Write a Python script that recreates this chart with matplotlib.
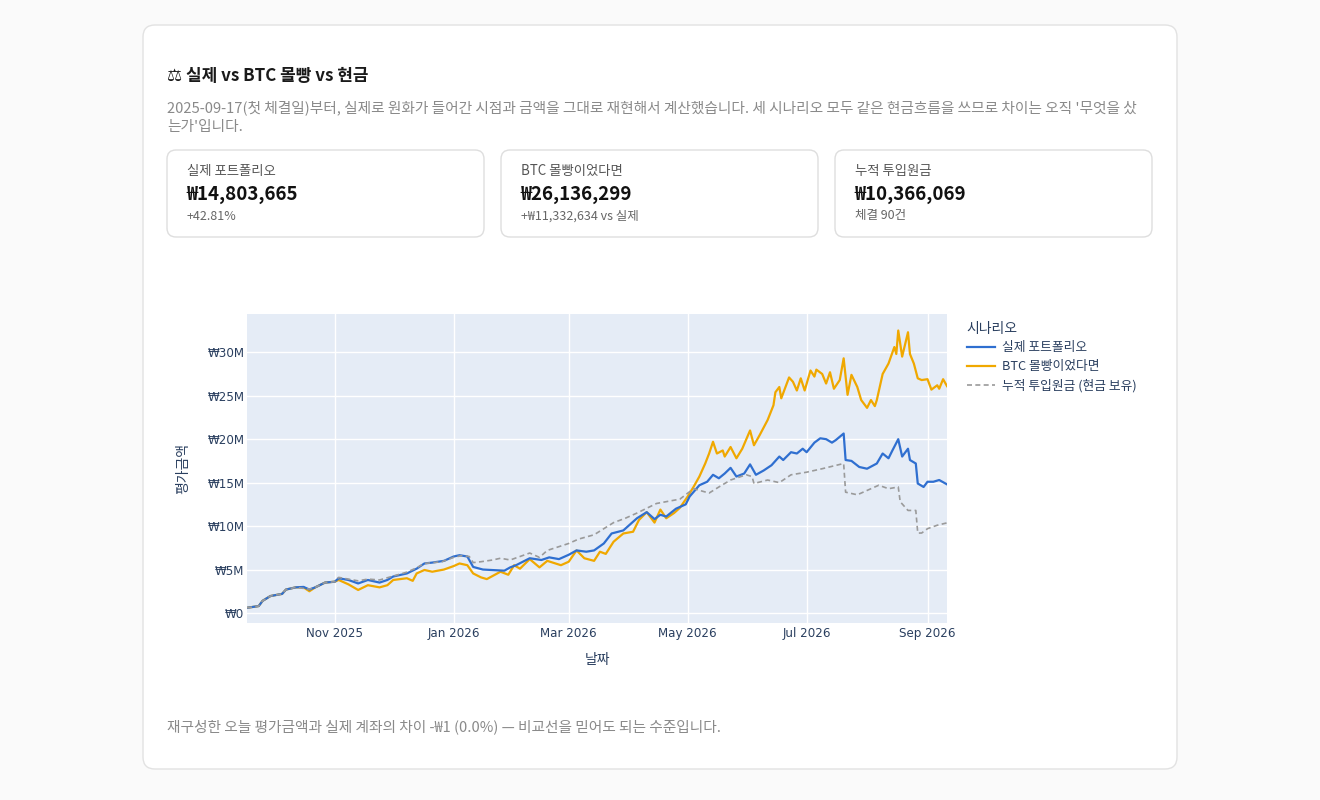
import numpy as np
import matplotlib.pyplot as plt
import matplotlib.dates as mdates
from matplotlib.patches import FancyBboxPatch
from matplotlib.lines import Line2D

plt.rcParams['font.family'] = ['Noto Sans CJK KR', 'DejaVu Sans']

# days since first fill (2025-09-17), values in millions of KRW
start = np.datetime64('2025-09-17')

actual_days = [0, 6, 8, 12, 18, 20, 25, 29, 32, 35, 40, 45, 47, 52, 57, 62, 68, 72, 75, 82,
               87, 91, 95, 101, 106, 109, 113, 116, 121, 126, 132, 135, 138, 145, 151, 155,
               160, 165, 169, 174, 178, 183, 187, 193, 200, 205, 209, 212, 215, 220, 225, 227,
               232, 236, 239, 242, 245, 248, 251, 255, 258, 261, 265, 269, 273, 275, 279, 282,
               285, 287, 291, 294, 297, 300, 302, 306, 307, 310, 314, 318, 323, 326, 329, 331,
               334, 336, 339, 340, 343, 344, 347, 349, 352, 355, 359]
actual_vals = [0.6, 0.8, 1.4, 1.95, 2.2, 2.7, 2.95, 3.0, 2.7, 2.95, 3.5, 3.6, 4.0, 3.8, 3.4,
               3.8, 3.5, 3.8, 4.2, 4.55, 5.1, 5.7, 5.8, 6.0, 6.5, 6.65, 6.5, 5.3, 5.0, 4.94,
               4.87, 5.25, 5.5, 6.3, 6.1, 6.4, 6.2, 6.7, 7.2, 7.05, 7.2, 8.0, 9.15, 9.5, 10.9,
               11.6, 10.8, 11.3, 11.1, 12.0, 12.5, 13.4, 14.7, 15.1, 15.9, 15.5, 16.05, 16.7,
               15.7, 16.05, 17.1, 15.9, 16.4, 17.0, 18.0, 17.6, 18.5, 18.35, 18.9, 18.5, 19.6,
               20.1, 20.0, 19.6, 19.9, 20.65, 17.6, 17.5, 16.8, 16.6, 17.2, 18.35, 17.8, 18.7,
               20.0, 18.0, 18.9, 17.6, 17.2, 14.9, 14.5, 15.1, 15.1, 15.3, 14.8]

btc_days = [0, 6, 8, 12, 18, 20, 25, 29, 32, 35, 40, 45, 47, 52, 57, 62, 68, 72, 75, 82, 85,
            87, 91, 95, 101, 106, 109, 113, 116, 120, 123, 130, 134, 137, 140, 145, 150, 154,
            161, 165, 169, 173, 178, 181, 184, 188, 193, 198, 201, 205, 209, 212, 215, 219,
            222, 226, 229, 232, 235, 237, 239, 241, 244, 245, 248, 251, 254, 258, 260, 263,
            267, 270, 271, 273, 274, 278, 280, 282, 284, 286, 289, 291, 292, 295, 297, 299,
            301, 304, 306, 308, 310, 313, 315, 318, 320, 322, 323, 326, 329, 332, 333, 334,
            336, 339, 340, 342, 344, 346, 349, 351, 354, 355, 357, 359]
btc_vals = [0.6, 0.8, 1.4, 1.95, 2.2, 2.7, 2.95, 2.95, 2.5, 2.95, 3.5, 3.6, 3.8, 3.3, 2.65,
            3.2, 2.95, 3.2, 3.8, 4.0, 3.7, 4.55, 4.95, 4.75, 5.0, 5.4, 5.7, 5.5, 4.55, 4.1,
            3.9, 4.75, 4.4, 5.5, 5.1, 6.2, 5.25, 6.0, 5.5, 5.9, 7.2, 6.3, 6.0, 7.05, 6.8, 8.2,
            9.15, 9.35, 10.7, 11.6, 10.4, 11.9, 10.9, 11.5, 12.1, 13.4, 14.5, 15.7, 17.2,
            18.35, 19.7, 18.35, 18.7, 18.0, 19.1, 17.8, 18.9, 21.0, 19.3, 20.5, 22.2, 23.9,
            25.4, 26.0, 24.7, 27.1, 26.6, 25.6, 27.0, 25.6, 27.9, 27.2, 28.0, 27.5, 26.4,
            27.7, 25.8, 26.8, 29.3, 25.1, 27.4, 26.0, 24.5, 23.6, 24.5, 23.8, 24.5, 27.5,
            28.7, 30.6, 29.8, 32.5, 29.5, 32.3, 29.8, 28.7, 27.0, 26.8, 26.9, 25.7, 26.2,
            25.8, 26.9, 26.1]

cash_days = [0, 6, 8, 12, 18, 20, 25, 32, 35, 40, 45, 47, 57, 62, 68, 75, 82, 87, 91, 100,
             106, 110, 114, 116, 120, 126, 130, 135, 145, 150, 154, 165, 170, 178, 188, 194,
             200, 210, 222, 229, 237, 242, 248, 256, 259, 260, 267, 273, 279, 287, 295, 306,
             307, 313, 318, 324, 329, 334, 335, 339, 343, 344, 346, 349, 354, 359]
cash_vals = [0.6, 0.8, 1.4, 1.95, 2.2, 2.7, 2.95, 2.75, 2.95, 3.5, 3.6, 4.1, 3.7, 3.9, 3.8,
             4.25, 4.7, 5.2, 5.7, 5.9, 6.4, 6.6, 6.5, 5.8, 5.9, 6.1, 6.3, 6.1, 6.9, 6.4, 7.2,
             8.0, 8.5, 9.0, 10.4, 10.9, 11.5, 12.6, 13.1, 14.3, 13.8, 14.5, 15.3, 15.9, 15.7,
             14.9, 15.3, 15.0, 15.9, 16.2, 16.6, 17.2, 13.9, 13.6, 14.1, 14.7, 14.3, 14.5,
             12.8, 11.8, 11.8, 9.2, 9.2, 9.7, 10.1, 10.37]

series_names = ['실제 포트폴리오', 'BTC 몰빵이었다면', '누적 투입원금 (현금 보유)']
y_ticks = [0, 5, 10, 15, 20, 25, 30]
y_tick_labels = ['₩0', '₩5M', '₩10M', '₩15M', '₩20M', '₩25M', '₩30M']

card_labels = ['실제 포트폴리오', 'BTC 몰빵이었다면', '누적 투입원금']
card_values = ['₩14,803,665', '₩26,136,299', '₩10,366,069']
card_subs = ['+42.81%', '+₩11,332,634 vs 실제', '체결 90건']

fig = plt.figure(figsize=(13.2, 8), dpi=100, facecolor='#fafafa')

# page layer in pixel coordinates
bg = fig.add_axes([0, 0, 1, 1], zorder=0)
bg.set_xlim(0, 1320)
bg.set_ylim(800, 0)
bg.axis('off')

bg.add_patch(FancyBboxPatch((143, 25), 1034, 744, boxstyle='round,pad=0,rounding_size=12',
                            fc='white', ec='#e2e2e2', lw=1))

bg.text(167, 76, '⚖ 실제 vs BTC 몰빵 vs 현금', fontsize=12.2, fontweight='bold',
        color='#1a1a1a', va='center')
bg.text(167, 108, "2025-09-17(첫 체결일)부터, 실제로 원화가 들어간 시점과 금액을 그대로 재현해서 "
        "계산했습니다. 세 시나리오 모두 같은 현금흐름을 쓰므로 차이는 오직 '무엇을 샀",
        fontsize=10.6, color='#8a8a8a', va='center')
bg.text(167, 127, "는가'입니다.", fontsize=10.6, color='#8a8a8a', va='center')

for i, left in enumerate([167, 501, 835]):
    bg.add_patch(FancyBboxPatch((left, 150), 317, 87, boxstyle='round,pad=0,rounding_size=9',
                                fc='white', ec='#dedede', lw=1))
    bg.text(left + 20, 171, card_labels[i], fontsize=9.6, color='#555555', va='center')
    bg.text(left + 19, 194, card_values[i], fontsize=13.5, fontweight='bold',
            color='#111111', va='center')
    bg.text(left + 20, 216, card_subs[i], fontsize=9.0, color='#666666', va='center')

bg.text(167, 727, '재구성한 오늘 평가금액과 실제 계좌의 차이 -₩1 (0.0%) — 비교선을 믿어도 되는 수준입니다.',
        fontsize=10.6, color='#8a8a8a', va='center')

# chart
ax = fig.add_axes([247 / 1320, 1 - 623 / 800, 700 / 1320, 309 / 800], zorder=1)
ax.set_facecolor('#e5ecf6')

ax.plot(start + np.array(actual_days), actual_vals, color='#2f6fd0', lw=1.6, zorder=3)
ax.plot(start + np.array(btc_days), btc_vals, color='#f0a800', lw=1.6, zorder=2)
ax.plot(start + np.array(cash_days), cash_vals, color='#9a9a9a', lw=1.2,
        linestyle=(0, (3, 2)), zorder=4)

ax.set_xlim(start, start + 359)
ax.set_ylim(-1.15, 34.4)
ax.set_yticks(y_ticks)
ax.set_yticklabels(y_tick_labels)
ax.xaxis.set_major_locator(mdates.MonthLocator(bymonth=[11, 1, 3, 5, 7, 9]))
ax.xaxis.set_major_formatter(mdates.DateFormatter('%b %Y'))
ax.grid(True, color='white', lw=1)
ax.set_axisbelow(True)
for s in ax.spines.values():
    s.set_visible(False)
ax.tick_params(length=0, labelsize=8.6, labelcolor='#2a3f5f',
               labelfontfamily='DejaVu Sans')
ax.tick_params(axis='y', pad=2)
ax.tick_params(axis='x', pad=3)
ax.set_xlabel('날짜', fontsize=10, color='#2a3f5f', labelpad=9)
ax.set_ylabel('평가금액', fontsize=10, color='#2a3f5f', labelpad=12)

handles = [Line2D([], [], color='#2f6fd0', lw=1.6),
           Line2D([], [], color='#f0a800', lw=1.6),
           Line2D([], [], color='#9a9a9a', lw=1.2, linestyle=(0, (3, 2)))]
leg = fig.legend(handles, series_names, title='시나리오', loc='upper left',
                 bbox_to_anchor=(955 / 1320, 1 - 310 / 800), frameon=False,
                 fontsize=9.2, title_fontsize=10, handlelength=2.2, handletextpad=0.55,
                 labelspacing=0.45, alignment='left', labelcolor='#2a3f5f')
leg.get_title().set_color('#2a3f5f')

fig.savefig('out.png', dpi=100, facecolor=fig.get_facecolor())
